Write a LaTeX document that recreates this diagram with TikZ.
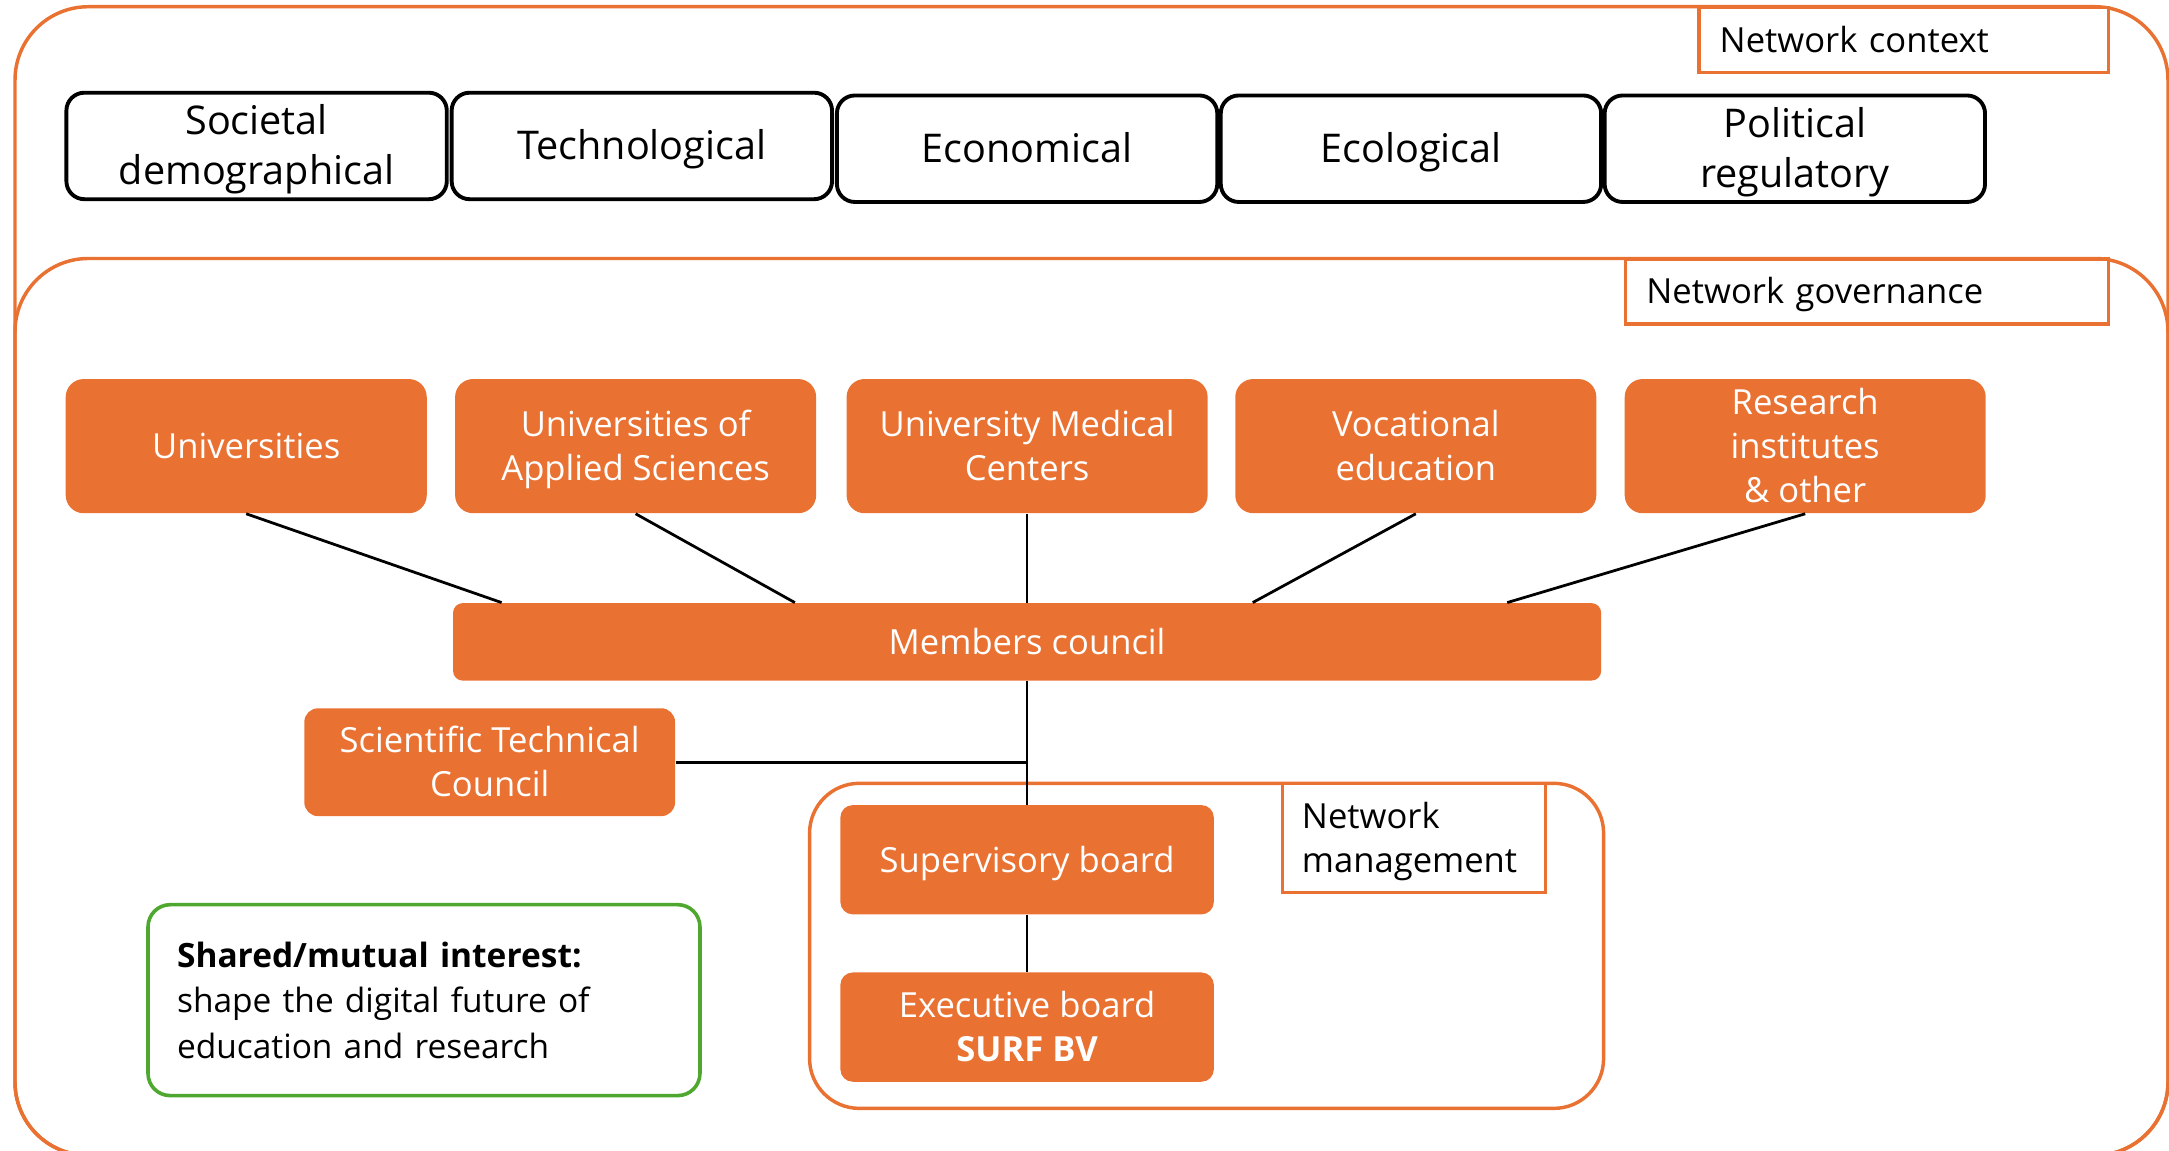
\documentclass[tikz,border=0pt]{standalone}
\usepackage{fontspec}
\setmainfont{Open Sans}
\usetikzlibrary{calc}
\definecolor{orng}{HTML}{E97132}
\definecolor{grn}{HTML}{4EA72E}
\newcommand\cstrut{\rule[-0.22\baselineskip]{0pt}{\baselineskip}}
\begin{document}
\begin{tikzpicture}[x=0.5pt,y=-0.5pt,
  ctxbox/.style={draw=black, line width=1.4pt, rounded corners=6.5pt, fill=white,
    minimum width=137.5pt, minimum height=38.5pt, align=center, inner sep=0pt,
    font=\fontsize{14.3}{18}\selectfont},
  obox/.style={fill=orng, draw=none, rounded corners=6.5pt, text=white,
    minimum width=130.5pt, minimum height=48.5pt, align=center, inner sep=0pt,
    font=\fontsize{12.5}{16}\selectfont},
  lbl/.style={draw=orng, line width=1.2pt, fill=white, align=left, inner ysep=0pt,
    inner xsep=7.5pt, font=\fontsize{12.5}{16}\selectfont, anchor=north west},
  frame/.style={draw=orng, line width=1.25pt, inner sep=0pt, anchor=north west, rounded corners=26.5pt},
  conn/.style={draw=black, line width=1pt}
]
\useasboundingbox (0,0) rectangle (1568,832);
\clip (0,0) rectangle (1568,832);

% containers
\node[frame, minimum width=778.2pt, minimum height=415.2pt] (context) at (9.6,3.6) {};
\node[frame, minimum width=778.2pt, minimum height=324.2pt] (governance) at (9.6,185.6) {};
\node[frame, rounded corners=18pt, minimum width=287pt, minimum height=117.5pt] (management) at (584,565) {};

% labels
\node[lbl, text width=133pt, minimum height=23.5pt] (lctx) at (1227,4) {\cstrut Network context};
\node[lbl, text width=159.5pt, minimum height=23.5pt] (lgov) at (1174,186) {\cstrut Network governance};
\node[lbl, inner xsep=7pt, text width=81pt, minimum height=39.5pt] (lman) at (926,565) {\cstrut Network\\\cstrut management};

% context factors
\node[ctxbox] (soc) at (185.5,105.5) {\cstrut Societal\\\cstrut demographical};
\node[ctxbox] (tech) at (464,105.5) {\cstrut Technological};
\node[ctxbox] (econ) at (742.5,107.5) {\cstrut Economical};
\node[ctxbox] (eco) at (1020,107.5) {\cstrut Ecological};
\node[ctxbox] (pol) at (1297.5,107.5) {\cstrut Political\\\cstrut regulatory};

% members
\node[obox] (uni) at (178,322.5) {\cstrut Universities};
\node[obox] (uas) at (459.5,322.5) {\cstrut Universities of\\\cstrut Applied Sciences};
\node[obox] (umc) at (742.5,322.5) {\cstrut University Medical\\\cstrut Centers};
\node[obox] (voc) at (1023.5,322.5) {\cstrut Vocational\\\cstrut education};
\node[obox] (res) at (1305,322.5) {\cstrut Research\\\cstrut institutes\\\cstrut \& other};

\node[obox, rounded corners=3.5pt, minimum width=415pt, minimum height=28pt] (mc) at (742.5,464) {\cstrut Members council};
\node[obox, rounded corners=5pt, minimum width=134pt, minimum height=39pt] (stc) at (354,551) {\cstrut Scientific Technical\\\cstrut Council};
\node[obox, rounded corners=4.5pt, minimum width=135pt, minimum height=39.5pt] (sb) at (742.5,621.5) {\cstrut Supervisory board};
\node[obox, rounded corners=4.5pt, minimum width=135pt, minimum height=39.5pt] (eb) at (742.5,742.5) {\cstrut Executive board\\\cstrut\textbf{SURF BV}};

\node[draw=grn, line width=1.3pt, rounded corners=8pt, minimum width=199.5pt, minimum height=69pt,
  inner xsep=10.5pt, text width=178.5pt, align=left, font=\fontsize{12.1}{16.5}\selectfont] (shared) at (306.5,723)
  {\cstrut\textbf{Shared/mutual interest:}\\\cstrut shape the digital future of\\\cstrut education and research};

% connectors
\path (mc.north west) ++(35.5,0) coordinate (m1);
\path (mc.north west) ++(247.5,0) coordinate (m2);
\path (mc.north west) ++(578.5,0) coordinate (m4);
\path (mc.north west) ++(762.5,0) coordinate (m5);
\draw[conn] (uni.south) -- (m1);
\draw[conn] (uas.south) -- (m2);
\draw[conn] (umc.south) -- (mc.north);
\draw[conn] (voc.south) -- (m4);
\draw[conn] (res.south) -- (m5);
\draw[conn] (mc.south) -- (sb.north);
\draw[conn] (stc.east) -- (stc.east -| mc.south);
\draw[conn] (sb.south) -- (eb.north);
\end{tikzpicture}
\end{document}
